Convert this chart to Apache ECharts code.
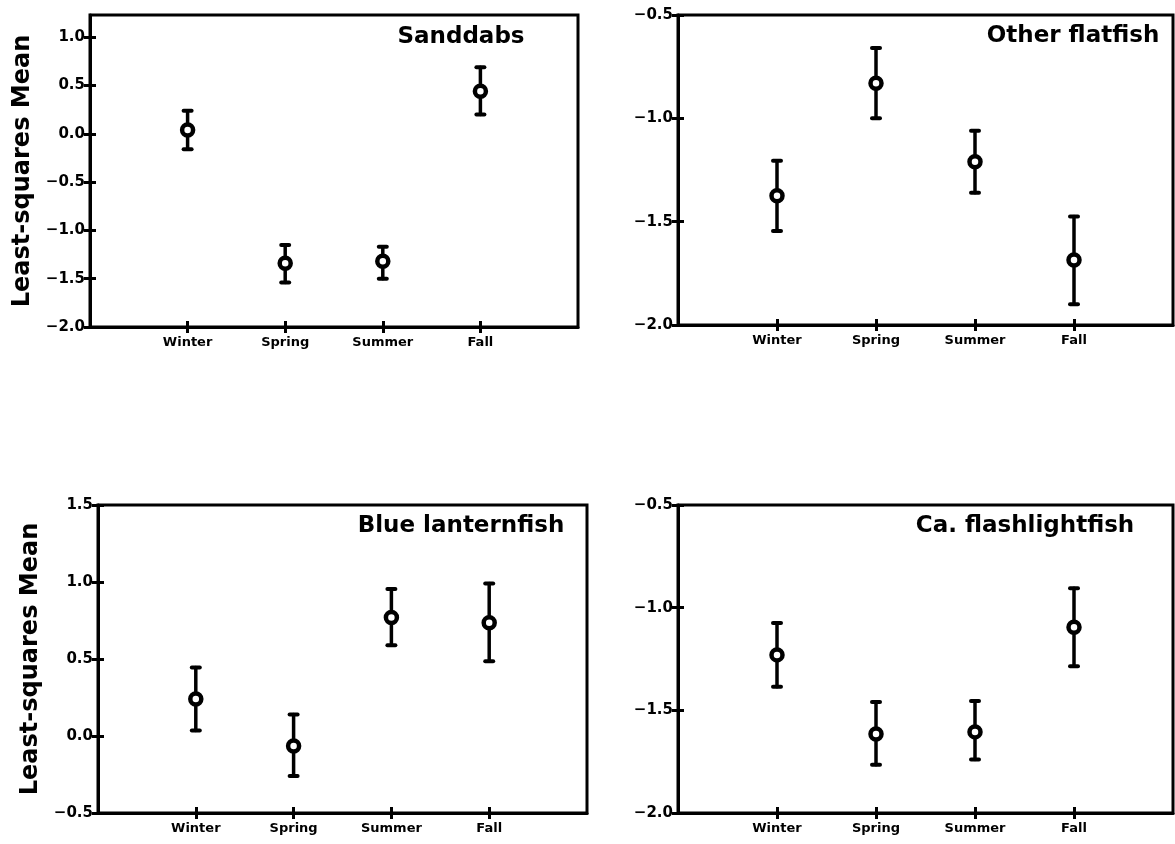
<!DOCTYPE html>
<html>
<head>
<meta charset="utf-8">
<script src="https://cdn.jsdelivr.net/npm/echarts@6/dist/echarts.min.js"></script>
<style>
html,body{margin:0;padding:0;background:#fff;}
#chart{width:1175px;height:844px;}
</style>
</head>
<body>
<div id="chart"></div>
<script>
// ---- data ----
const seasons = ['Winter', 'Spring', 'Summer', 'Fall'];
const seasonPos = [1, 2, 3, 4];

const panelTitles = ['Sanddabs', 'Other flatfish', 'Blue lanternfish', 'Ca. flashlightfish'];
const yAxisTitle = 'Least-squares Mean';

const sanddabsMean = [0.04, -1.34, -1.32, 0.44];
const sanddabsLow  = [-0.16, -1.54, -1.50, 0.20];
const sanddabsHigh = [0.24, -1.15, -1.17, 0.69];

const otherMean = [-1.375, -0.83, -1.21, -1.685];
const otherLow  = [-1.545, -1.00, -1.36, -1.90];
const otherHigh = [-1.205, -0.66, -1.06, -1.475];

const blueMean = [0.24, -0.065, 0.77, 0.735];
const blueLow  = [0.035, -0.26, 0.59, 0.485];
const blueHigh = [0.445, 0.14, 0.955, 0.99];

const caMean = [-1.23, -1.615, -1.605, -1.095];
const caLow  = [-1.385, -1.765, -1.74, -1.285];
const caHigh = [-1.075, -1.46, -1.455, -0.905];

const yTicksTL = [-2.0, -1.5, -1.0, -0.5, 0.0, 0.5, 1.0];
const yTicksTR = [-2.0, -1.5, -1.0, -0.5];
const yTicksBL = [-0.5, 0.0, 0.5, 1.0, 1.5];
const yTicksBR = [-2.0, -1.5, -1.0, -0.5];

// ---- layout / style ----
const FONT = 'DejaVu Sans';
const panels = [
  {grid:{left:90, top:15, width:488, height:312}, ymin:-2.0, ymax:1.23, ticks:yTicksTL, mean:sanddabsMean, low:sanddabsLow, high:sanddabsHigh, name:true, title:{x:461, y:26}},
  {grid:{left:678, top:15, width:495, height:310}, ymin:-2.0, ymax:-0.5, ticks:yTicksTR, mean:otherMean, low:otherLow, high:otherHigh, name:false, title:{x:1073, y:25}},
  {grid:{left:98, top:505, width:489, height:308}, ymin:-0.5, ymax:1.5, ticks:yTicksBL, mean:blueMean, low:blueLow, high:blueHigh, name:true, title:{x:461, y:515}},
  {grid:{left:678, top:505, width:495, height:308}, ymin:-2.0, ymax:-0.5, ticks:yTicksBR, mean:caMean, low:caLow, high:caHigh, name:false, title:{x:1025, y:515}}
];

function fmtY(v){
  const s = Math.abs(v).toFixed(1);
  return (v < -1e-9 ? '\u2212' : '') + s;
}

const grids = [], xAxes = [], yAxes = [], series = [], titles = [];
const LW = 3;

panels.forEach((p, i) => {
  grids.push(Object.assign({show:true, borderColor:'#000', borderWidth:LW, backgroundColor:'transparent'}, p.grid));
  // primary x axis (outside ticks + labels)
  xAxes.push({
    type:'value', gridIndex:i, min:0, max:5, interval:1, position:'bottom',
    axisLine:{show:true, onZero:false, lineStyle:{color:'#000', width:LW}},
    axisTick:{show:true, inside:false, length:6, customValues:seasonPos, lineStyle:{color:'#000', width:3}},
    axisLabel:{show:true, customValues:seasonPos, margin:9, color:'#000', fontFamily:FONT, fontWeight:'bold', fontSize:13,
      formatter:(v)=> seasons[Math.round(v)-1] || ''},
    splitLine:{show:false}
  });
  // secondary x axis (inside ticks)
  xAxes.push({
    type:'value', gridIndex:i, min:0, max:5, interval:1, position:'bottom',
    axisLine:{show:false, onZero:false},
    axisTick:{show:true, inside:true, length:6, customValues:seasonPos, lineStyle:{color:'#000', width:3}},
    axisLabel:{show:false}, splitLine:{show:false}
  });
  const yName = p.name ? {
    name:yAxisTitle, nameLocation:'middle', nameRotate:90, nameGap:55,
    nameTextStyle:{color:'#000', fontFamily:FONT, fontWeight:'bold', fontSize:24}
  } : {};
  yAxes.push(Object.assign({
    type:'value', gridIndex:i, min:p.ymin, max:p.ymax, position:'left',
    axisLine:{show:true, onZero:false, lineStyle:{color:'#000', width:LW}},
    axisTick:{show:true, inside:false, length:6, customValues:p.ticks, lineStyle:{color:'#000', width:3}},
    axisLabel:{show:true, customValues:p.ticks, margin:5, color:'#000', fontFamily:FONT, fontWeight:'bold', fontSize:15,
      formatter:fmtY},
    splitLine:{show:false}
  }, yName));
  yAxes.push({
    type:'value', gridIndex:i, min:p.ymin, max:p.ymax, position:'left',
    axisLine:{show:false, onZero:false},
    axisTick:{show:true, inside:true, length:6, customValues:p.ticks, lineStyle:{color:'#000', width:3}},
    axisLabel:{show:false}, splitLine:{show:false}
  });

  const xi = i*2, yi = i*2;
  // error bars
  series.push({
    type:'custom', xAxisIndex:xi, yAxisIndex:yi, z:3,
    data: seasonPos.map((x, k) => [x, p.low[k], p.high[k]]),
    renderItem:(params, api) => {
      const lo = api.coord([api.value(0), api.value(1)]);
      const hi = api.coord([api.value(0), api.value(2)]);
      const cw = 4;
      const st = {stroke:'#000', lineWidth:3.5, lineCap:'round'};
      return {type:'group', children:[
        {type:'line', shape:{x1:lo[0], y1:lo[1], x2:hi[0], y2:hi[1]}, style:st},
        {type:'line', shape:{x1:lo[0]-cw, y1:lo[1], x2:lo[0]+cw, y2:lo[1]}, style:{stroke:'#000', lineWidth:4, lineCap:'round'}},
        {type:'line', shape:{x1:hi[0]-cw, y1:hi[1], x2:hi[0]+cw, y2:hi[1]}, style:{stroke:'#000', lineWidth:4, lineCap:'round'}}
      ]};
    },
    silent:true, animation:false
  });
  // means
  series.push({
    type:'scatter', xAxisIndex:xi, yAxisIndex:yi, z:4,
    data: seasonPos.map((x, k) => [x, p.mean[k]]),
    symbol:'circle', symbolSize:11,
    itemStyle:{color:'#fff', borderColor:'#000', borderWidth:4.5, opacity:1},
    silent:true, animation:false
  });
  titles.push({
    text:panelTitles[i], left:p.title.x, top:p.title.y, textAlign:'center', padding:0,
    textStyle:{color:'#000', fontFamily:FONT, fontWeight:'bold', fontSize:23}
  });
});

const chart = echarts.init(document.getElementById('chart'), null, {renderer:'canvas'});
chart.setOption({
  backgroundColor:'#fff',
  animation:false,
  title:titles,
  grid:grids,
  xAxis:xAxes,
  yAxis:yAxes,
  series:series
});
</script>
</body>
</html>
